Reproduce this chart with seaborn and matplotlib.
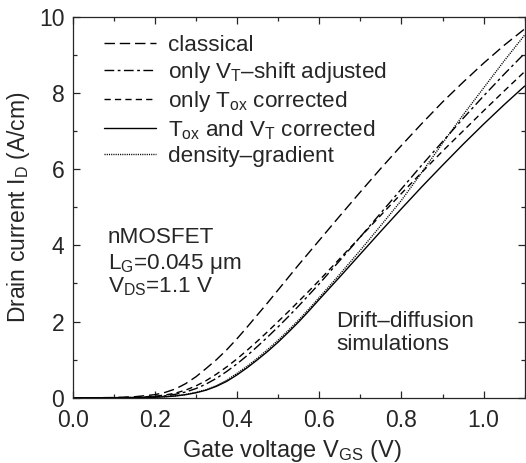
import numpy as np
import pandas as pd
import matplotlib
matplotlib.use("Agg")
import matplotlib.pyplot as plt
from matplotlib.ticker import MultipleLocator
import seaborn as sns

# ---- data ----
vgs = [0, 0.05, 0.1, 0.15, 0.2, 0.225, 0.25, 0.275, 0.3, 0.325, 0.35, 0.375, 0.4, 0.425,
       0.45, 0.475, 0.5, 0.525, 0.55, 0.575, 0.6, 0.65, 0.7, 0.75, 0.8, 0.85, 0.9, 0.95,
       1.0, 1.05, 1.1]
id_classical = [0, 0, 0.005, 0.025, 0.08, 0.14, 0.23, 0.37, 0.55, 0.77, 1.0, 1.26, 1.55, 1.86,
                2.18, 2.5, 2.83, 3.16, 3.49, 3.81, 4.13, 4.77, 5.4, 6.02, 6.62, 7.2, 7.76, 8.28,
                8.78, 9.25, 9.68]
id_vt_shift = [0, 0, 0.001, 0.005, 0.025, 0.05, 0.09, 0.15, 0.24, 0.36, 0.51, 0.69, 0.89, 1.11,
               1.35, 1.6, 1.86, 2.13, 2.41, 2.7, 2.99, 3.6, 4.22, 4.85, 5.48, 6.11, 6.72, 7.33,
               7.92, 8.49, 9.04]
id_tox = [0, 0, 0.001, 0.008, 0.04, 0.07, 0.12, 0.2, 0.31, 0.45, 0.62, 0.81, 1.02, 1.25,
          1.49, 1.74, 2.0, 2.26, 2.53, 2.8, 3.08, 3.65, 4.22, 4.79, 5.36, 5.92, 6.47, 7.0,
          7.53, 8.05, 8.56]
id_tox_vt = [0, 0, 0, 0.003, 0.012, 0.025, 0.045, 0.08, 0.13, 0.2, 0.3, 0.43, 0.6, 0.79,
             1.0, 1.22, 1.46, 1.72, 1.99, 2.28, 2.58, 3.17, 3.77, 4.37, 4.96, 5.54, 6.1, 6.65,
             7.18, 7.69, 8.18]
id_dg = [0, 0, 0, 0.003, 0.013, 0.028, 0.05, 0.085, 0.14, 0.21, 0.32, 0.46, 0.64, 0.83,
         1.04, 1.27, 1.51, 1.77, 2.04, 2.33, 2.63, 3.24, 3.87, 4.52, 5.18, 5.92, 6.68, 7.42,
         8.13, 8.84, 9.52]

labels = [
    "classical",
    "only V$_\\mathregular{T}$\u2013shift adjusted",
    "only T$_\\mathregular{ox}$ corrected",
    "T$_\\mathregular{ox}$ and V$_\\mathregular{T}$ corrected",
    "density\u2013gradient",
]
series = [id_classical, id_vt_shift, id_tox, id_tox_vt, id_dg]

xticks = [0.0, 0.2, 0.4, 0.6, 0.8, 1.0]
yticks = [0, 2, 4, 6, 8, 10]

df = pd.concat(
    [pd.DataFrame({"VGS": vgs, "ID": s, "model": lab}) for lab, s in zip(labels, series)],
    ignore_index=True,
)

sns.set_style("ticks")
plt.rcParams["font.family"] = ["Liberation Sans", "DejaVu Sans"]
plt.rcParams["mathtext.fontset"] = "custom"
plt.rcParams["mathtext.rm"] = "Liberation Sans"
plt.rcParams["mathtext.it"] = "Liberation Sans:italic"
plt.rcParams["mathtext.bf"] = "Liberation Sans:bold"

fig = plt.figure(figsize=(5.26, 4.63), dpi=100)
ax = fig.add_axes([0.1382, 0.141, 0.8593, 0.8229])

dashes = {
    labels[0]: (7.5, 3.5),
    labels[1]: (7.0, 2.5, 2.0, 2.5),
    labels[2]: (4.5, 3.0),
    labels[3]: "",
    labels[4]: (0.8, 0.8),
}
palette = {lab: "black" for lab in labels}

sns.lineplot(data=df, x="VGS", y="ID", hue="model", style="model",
             hue_order=labels, style_order=labels,
             palette=palette, dashes=dashes, linewidth=1.0, ax=ax,
             estimator=None, sort=False)

ax.set_xlim(0, 1.1)
ax.set_ylim(0, 10)
ax.set_xticks(xticks)
ax.set_xticklabels([f"{t:.1f}" for t in xticks])
ax.set_yticks(yticks)
ax.set_yticklabels([str(t) for t in yticks])
ax.xaxis.set_minor_locator(MultipleLocator(0.1))
ax.yaxis.set_minor_locator(MultipleLocator(1))
ax.tick_params(which="both", direction="in", top=True, right=True, width=0.9)
ax.tick_params(which="major", length=5, labelsize=16.5)
ax.tick_params(axis="x", which="major", pad=8)
ax.tick_params(axis="y", which="major", pad=6)
ax.tick_params(which="minor", length=3)
for sp in ax.spines.values():
    sp.set_linewidth(0.9)
    sp.set_visible(True)

ax.set_xlabel("Gate voltage V$_\\mathregular{GS}$ (V)", fontsize=17)
ax.xaxis.set_label_coords(0.484, -0.106)
ax.set_ylabel("Drain current I$_\\mathregular{D}$ (A/cm)", fontsize=16.5, labelpad=5)

leg = ax.legend(loc="upper left", bbox_to_anchor=(0.07, 0.952), frameon=False,
                fontsize=16.2, handlelength=2.3, handletextpad=0.55,
                labelspacing=0.18, borderpad=0, borderaxespad=0)

tk = dict(transform=ax.transAxes, fontsize=16.2, va="baseline", ha="left")
ax.text(0.078, 0.405, "nMOSFET", **tk)
ax.text(0.078, 0.337, "L$_\\mathregular{G}$=0.045 \u03bcm", **tk)
ax.text(0.078, 0.276, "V$_\\mathregular{DS}$=1.1 V", **tk)
ax.text(0.583, 0.186, "Drift\u2013diffusion", **tk)
ax.text(0.583, 0.125, "simulations", **tk)

fig.savefig("out.png", dpi=100)
